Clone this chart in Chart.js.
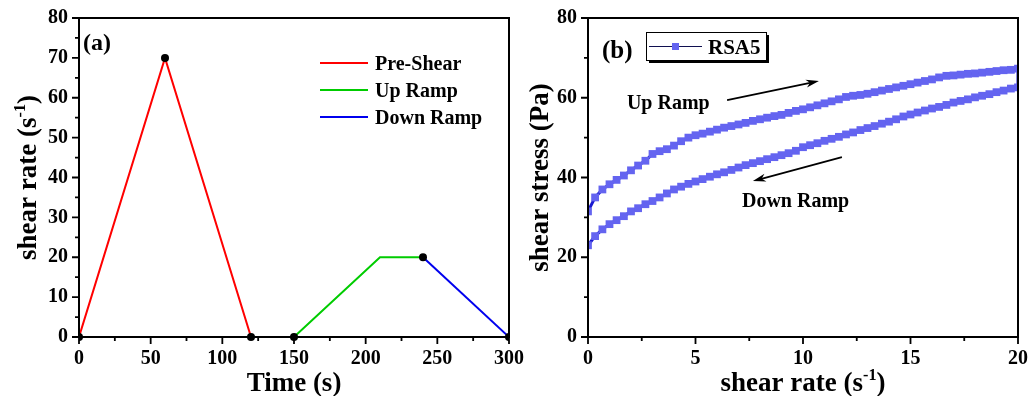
<!DOCTYPE html>
<html>
<head>
<meta charset="utf-8">
<script src="https://cdn.jsdelivr.net/npm/chart.js@4.4.0/dist/chart.umd.min.js"></script>
<style>
html, body { margin: 0; padding: 0; background: #fff; }
#wrap { position: relative; width: 1029px; height: 396px; overflow: hidden; }
canvas { position: absolute; top: 0; }
#chartA { left: 0; }
#chartB { left: 500px; }
</style>
</head>
<body>
<div id="wrap">
  <canvas id="chartA" width="540" height="396"></canvas>
  <canvas id="chartB" width="529" height="396"></canvas>
</div>
<script>
var FONT = '"Liberation Serif", "Times New Roman", serif';

// (a) shear rate protocol vs time
var preShearTime = [0, 60, 120, 150];
var preShearRate = [0, 70, 0, 0];
var upRampTime = [150, 210, 240];
var upRampRate = [0, 20, 20];
var downRampTime = [240, 300];
var downRampRate = [20, 0];
var markTime = [0, 60, 120, 150, 240, 300];
var markRate = [0, 70, 0, 0, 20, 0];
var seriesNamesA = ['Pre-Shear', 'Up Ramp', 'Down Ramp'];

// (b) hysteresis loop, RSA5
var rampShearRate = [0, 0.33, 0.67, 1, 1.33, 1.67, 2, 2.33, 2.67, 3, 3.33, 3.67, 4, 4.33, 4.67,
  5, 5.33, 5.67, 6, 6.33, 6.67, 7, 7.33, 7.67, 8, 8.33, 8.67, 9, 9.33, 9.67,
  10, 10.33, 10.67, 11, 11.33, 11.67, 12, 12.33, 12.67, 13, 13.33, 13.67, 14, 14.33, 14.67,
  15, 15.33, 15.67, 16, 16.33, 16.67, 17, 17.33, 17.67, 18, 18.33, 18.67, 19, 19.33, 19.67, 20];
var upStress = [31.5, 35.0, 37.0, 38.3, 39.4, 40.5, 41.8, 43.0, 44.2, 45.9,
  46.6, 47.1, 48.0, 49.1, 50.0, 50.6, 51.0, 51.5, 52.0, 52.5,
  52.9, 53.3, 53.7, 54.2, 54.6, 55.0, 55.4, 55.7, 56.2, 56.7,
  57.1, 57.6, 58.1, 58.6, 59.1, 59.6, 60.2, 60.5, 60.7, 61.0,
  61.4, 61.8, 62.2, 62.6, 63.0, 63.4, 63.8, 64.2, 64.6, 65.1,
  65.5, 65.6, 65.8, 66.0, 66.1, 66.3, 66.5, 66.7, 66.9, 67.0, 67.3];
var downStress = [23.0, 25.3, 27.0, 28.3, 29.3, 30.3, 31.5, 32.3, 33.3, 34.1,
  35.0, 36.0, 37.0, 37.7, 38.4, 39.0, 39.6, 40.2, 40.8, 41.3,
  41.9, 42.5, 43.1, 43.6, 44.1, 44.6, 45.1, 45.6, 46.1, 46.7,
  47.6, 48.1, 48.6, 49.2, 49.7, 50.2, 50.8, 51.3, 51.9, 52.4,
  52.9, 53.5, 54.0, 54.6, 55.3, 55.8, 56.3, 56.8, 57.3, 57.7,
  58.2, 58.8, 59.2, 59.6, 60.1, 60.5, 60.9, 61.4, 61.8, 62.3, 62.6];
var seriesNameB = 'RSA5';

var colorsA = ['#ff0000', '#00cc00', '#0000ee'];
var markerB = '#6464f0';

function pairs(xs, ys) {
  return xs.map(function (x, i) { return { x: x, y: ys[i] }; });
}

function tickMarks(scale) {
  var out = [];
  var t = scale.ticks;
  for (var i = 0; i < t.length; i++) {
    out.push({ v: t[i].value, len: 7 });
    if (i + 1 < t.length) out.push({ v: (t[i].value + t[i + 1].value) / 2, len: 4 });
  }
  return out;
}

// text with superscripts, centred on the origin, baseline 0
function richText(ctx, parts, size) {
  var w = 0;
  parts.forEach(function (p) {
    ctx.font = 'bold ' + (p[1] ? size * 0.6 : size) + 'px ' + FONT;
    w += ctx.measureText(p[0]).width;
  });
  var x = -w / 2;
  ctx.textAlign = 'left';
  ctx.textBaseline = 'alphabetic';
  parts.forEach(function (p) {
    ctx.font = 'bold ' + (p[1] ? size * 0.6 : size) + 'px ' + FONT;
    ctx.fillText(p[0], x, p[1] ? -size * 0.4 : 0);
    x += ctx.measureText(p[0]).width;
  });
}

function makeFrame(cfg) {
  return {
    id: 'frame',
    afterDraw: function (chart) {
      var ctx = chart.ctx, a = chart.chartArea;
      var xs = chart.scales.x, ys = chart.scales.y;
      ctx.save();
      ctx.strokeStyle = '#000';
      ctx.lineWidth = 2;
      ctx.strokeRect(a.left, a.top, a.right - a.left, a.bottom - a.top);
      ctx.lineWidth = 1.8;
      ctx.beginPath();
      tickMarks(xs).forEach(function (t) {
        var p = xs.getPixelForValue(t.v);
        ctx.moveTo(p, a.bottom);
        ctx.lineTo(p, a.bottom + t.len);
      });
      tickMarks(ys).forEach(function (t) {
        var p = ys.getPixelForValue(t.v);
        ctx.moveTo(a.left - t.len, p);
        ctx.lineTo(a.left, p);
      });
      ctx.stroke();

      ctx.fillStyle = '#000';
      ctx.save();
      ctx.translate((a.left + a.right) / 2, a.bottom + 54);
      richText(ctx, cfg.xTitle, 27);
      ctx.restore();
      ctx.save();
      ctx.translate(a.left - cfg.yGap, (a.top + a.bottom) / 2);
      ctx.rotate(-Math.PI / 2);
      richText(ctx, cfg.yTitle, 27);
      ctx.restore();

      ctx.font = 'bold ' + cfg.panelSize + 'px ' + FONT;
      ctx.textAlign = 'left';
      ctx.textBaseline = 'alphabetic';
      ctx.fillText(cfg.panel, a.left + cfg.panelX, a.top + cfg.panelY);
      if (cfg.extra) cfg.extra(chart, ctx, a);
      ctx.restore();
    }
  };
}

function arrow(ctx, x0, y0, x1, y1) {
  var ang = Math.atan2(y1 - y0, x1 - x0), L = 13, W = 4;
  var c = Math.cos(ang), s = Math.sin(ang);
  ctx.beginPath();
  ctx.moveTo(x0, y0);
  ctx.lineTo(x1 - L * 0.6 * c, y1 - L * 0.6 * s);
  ctx.stroke();
  ctx.beginPath();
  ctx.moveTo(x1, y1);
  ctx.lineTo(x1 - L * c + W * s, y1 - L * s - W * c);
  ctx.lineTo(x1 - L * 0.7 * c, y1 - L * 0.7 * s);
  ctx.lineTo(x1 - L * c - W * s, y1 - L * s + W * c);
  ctx.closePath();
  ctx.fill();
}

function tickFont() {
  return { family: FONT, size: 20, weight: 'bold' };
}

function fixX(h) {
  return function (s) { s.height = h; s.paddingLeft = 0; s.paddingRight = 0; };
}
function fixY(w) {
  return function (s) { s.width = w; s.paddingTop = 0; s.paddingBottom = 0; };
}

// ---------- (a) ----------
var legendA = function (chart, ctx, a) {
  ctx.lineWidth = 2;
  ctx.font = 'bold 20px ' + FONT;
  ctx.fillStyle = '#000';
  seriesNamesA.forEach(function (name, i) {
    var y = a.top + 45 + i * 27;
    ctx.strokeStyle = colorsA[i];
    ctx.beginPath();
    ctx.moveTo(a.left + 241, y);
    ctx.lineTo(a.left + 289, y);
    ctx.stroke();
    ctx.fillText(name, a.left + 296, y + 7);
  });
};

new Chart(document.getElementById('chartA'), {
  type: 'line',
  data: {
    datasets: [
      { label: 'points', data: pairs(markTime, markRate), showLine: false,
        pointRadius: 4, pointBackgroundColor: '#000', pointBorderWidth: 0, order: 0,
        clip: { left: 0, right: 0, top: 8, bottom: 8 } },
      { label: seriesNamesA[0], data: pairs(preShearTime, preShearRate),
        borderColor: colorsA[0], borderWidth: 2, pointRadius: 0, order: 1 },
      { label: seriesNamesA[1], data: pairs(upRampTime, upRampRate),
        borderColor: colorsA[1], borderWidth: 2, pointRadius: 0, order: 1 },
      { label: seriesNamesA[2], data: pairs(downRampTime, downRampRate),
        borderColor: colorsA[2], borderWidth: 2, pointRadius: 0, order: 1 }
    ]
  },
  options: {
    responsive: false,
    animation: false,
    events: [],
    layout: { padding: { left: 0, top: 18, right: 31, bottom: 0 } },
    plugins: { legend: { display: false }, tooltip: { enabled: false } },
    scales: {
      x: {
        type: 'linear', min: 0, max: 300,
        ticks: { stepSize: 50, color: '#000', font: tickFont(), padding: 10, maxRotation: 0 },
        grid: { display: false, drawTicks: false },
        border: { display: false },
        afterFit: fixX(59)
      },
      y: {
        type: 'linear', min: 0, max: 80,
        ticks: { stepSize: 10, color: '#000', font: tickFont(), padding: 11 },
        grid: { display: false, drawTicks: false },
        border: { display: false },
        afterFit: fixY(79)
      }
    }
  },
  plugins: [makeFrame({
    xTitle: [['Time (s)']],
    yTitle: [['shear rate (s'], ['-1', true], [')']],
    yGap: 43,
    panel: '(a)', panelSize: 24, panelX: 4, panelY: 32,
    extra: legendA
  })]
});

// ---------- (b) ----------
var loopData = pairs(rampShearRate, upStress).concat(pairs(rampShearRate, downStress).reverse());

var annotB = function (chart, ctx, a) {
  var xs = chart.scales.x, ys = chart.scales.y;
  // legend box
  var bx = a.left + 58, by = a.top + 14, bw = 120, bh = 28;
  ctx.fillStyle = '#000';
  ctx.fillRect(bx + 3, by + 3, bw, bh);
  ctx.fillStyle = '#fff';
  ctx.fillRect(bx, by, bw, bh);
  ctx.strokeStyle = '#000';
  ctx.lineWidth = 1;
  ctx.strokeRect(bx + 0.5, by + 0.5, bw, bh);
  ctx.strokeStyle = '#101050';
  ctx.beginPath();
  ctx.moveTo(bx + 3, by + 14.5);
  ctx.lineTo(bx + 56, by + 14.5);
  ctx.stroke();
  ctx.fillStyle = markerB;
  ctx.fillRect(bx + 26, by + 11, 7, 7);
  ctx.fillStyle = '#000';
  ctx.font = 'bold 21px ' + FONT;
  ctx.fillText(seriesNameB, bx + 62, by + 22);

  // ramp annotations
  ctx.font = 'bold 20px ' + FONT;
  ctx.fillText('Up Ramp', xs.getPixelForValue(1.81), ys.getPixelForValue(57.3));
  ctx.fillText('Down Ramp', xs.getPixelForValue(7.16), ys.getPixelForValue(32.6));
  ctx.lineWidth = 1.8;
  ctx.strokeStyle = '#000';
  arrow(ctx, xs.getPixelForValue(6.47), ys.getPixelForValue(59.4),
    xs.getPixelForValue(10.74), ys.getPixelForValue(64.2));
  arrow(ctx, xs.getPixelForValue(11.81), ys.getPixelForValue(45.1),
    xs.getPixelForValue(7.67), ys.getPixelForValue(39.1));
};

new Chart(document.getElementById('chartB'), {
  type: 'line',
  data: {
    datasets: [{
      label: seriesNameB,
      data: loopData,
      borderColor: '#1a1ad0',
      borderWidth: 3,
      pointStyle: 'rect',
      pointRadius: 5.5,
      pointBackgroundColor: markerB,
      pointBorderWidth: 0,
      clip: 0
    }]
  },
  options: {
    responsive: false,
    animation: false,
    events: [],
    layout: { padding: { left: 0, top: 18, right: 11, bottom: 0 } },
    plugins: { legend: { display: false }, tooltip: { enabled: false } },
    scales: {
      x: {
        type: 'linear', min: 0, max: 20,
        ticks: { stepSize: 5, color: '#000', font: tickFont(), padding: 10, maxRotation: 0 },
        grid: { display: false, drawTicks: false },
        border: { display: false },
        afterFit: fixX(59)
      },
      y: {
        type: 'linear', min: 0, max: 80,
        ticks: { stepSize: 20, color: '#000', font: tickFont(), padding: 11 },
        grid: { display: false, drawTicks: false },
        border: { display: false },
        afterFit: fixY(88)
      }
    }
  },
  plugins: [makeFrame({
    xTitle: [['shear rate (s'], ['-1', true], [')']],
    yTitle: [['shear stress (Pa)']],
    yGap: 40,
    panel: '(b)', panelSize: 25, panelX: 14, panelY: 40,
    extra: annotB
  })]
});
</script>
</body>
</html>
